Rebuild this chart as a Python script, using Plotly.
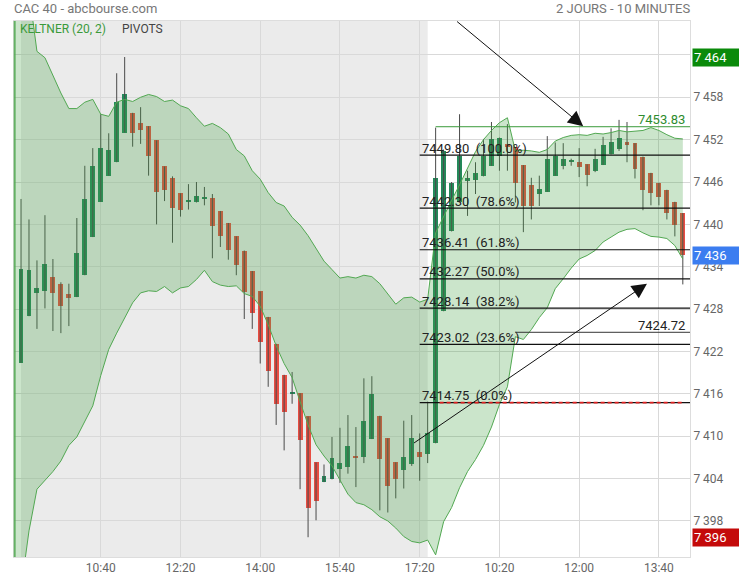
import plotly.graph_objects as go

# CAC 40, 10-minute candles over 2 sessions (index 0 = 9:00 day 1, index 52 = 9:00 day 2)
OPEN = [7420.4, 7427.0, 7430.3, 7430.6, 7432.6, 7431.5, 7430.1, 7429.7, 7432.8, 7438.2,
        7443.2, 7446.9, 7448.8, 7453.0, 7455.8, 7454.4, 7453.9, 7451.9, 7448.2, 7446.5,
        7444.4, 7443.2, 7443.2, 7443.6, 7443.7, 7441.9, 7440.2, 7438.3, 7436.3, 7433.4,
        7430.5, 7426.9, 7423.1, 7418.7, 7416.1, 7416.1, 7412.8, 7406.3, 7403.5, 7403.9,
        7405.3, 7405.7, 7407.2, 7407.1, 7409.6, 7412.9, 7409.7, 7406.3, 7405.2, 7406.1,
        7407.8, 7407.5, 7409.0, 7427.7, 7439.1, 7443.2, 7446.2, 7446.3, 7446.8, 7448.3,
        7449.7, 7451.4, 7450.9, 7448.4, 7445.6, 7444.3, 7444.6, 7446.9, 7448.3, 7448.9,
        7448.8, 7448.5, 7447.6, 7448.4, 7449.9, 7450.7, 7451.6, 7451.5, 7449.6, 7447.3,
        7445.9, 7444.9, 7443.2, 7441.6]
HIGH = [7443.6, 7440.7, 7434.9, 7441.3, 7435.1, 7431.8, 7431.6, 7440.9, 7448.3, 7450.8,
        7455.6, 7452.9, 7461.4, 7463.7, 7455.8, 7456.6, 7453.9, 7451.9, 7448.2, 7446.8,
        7444.4, 7445.7, 7446.0, 7445.3, 7444.3, 7441.9, 7440.2, 7438.3, 7436.3, 7433.4,
        7430.5, 7426.9, 7423.1, 7418.7, 7419.1, 7416.1, 7412.8, 7406.3, 7406.0, 7409.9,
        7411.2, 7413.0, 7411.3, 7418.2, 7418.5, 7412.9, 7409.7, 7406.3, 7412.2, 7413.0,
        7410.4, 7414.9, 7453.7, 7450.6, 7446.0, 7455.6, 7447.6, 7448.8, 7452.1, 7454.5,
        7452.3, 7454.2, 7450.9, 7448.4, 7446.6, 7446.9, 7452.5, 7451.6, 7451.5, 7449.3,
        7450.8, 7448.5, 7450.7, 7452.4, 7453.6, 7454.8, 7454.5, 7451.5, 7449.6, 7447.3,
        7445.9, 7444.9, 7443.2, 7441.6]
LOW = [7420.4, 7427.0, 7425.2, 7428.1, 7424.9, 7424.6, 7425.6, 7429.7, 7432.8, 7438.2,
       7443.2, 7446.9, 7448.8, 7453.0, 7451.0, 7451.4, 7446.9, 7440.0, 7443.3, 7437.4,
       7441.1, 7442.1, 7443.1, 7442.7, 7435.2, 7436.8, 7435.0, 7432.8, 7426.6, 7425.2,
       7420.3, 7417.0, 7411.6, 7408.0, 7414.6, 7402.5, 7395.7, 7398.1, 7403.5, 7403.9,
       7403.4, 7404.7, 7402.8, 7406.2, 7409.6, 7399.5, 7399.2, 7401.2, 7402.6, 7405.8,
       7403.7, 7406.2, 7409.0, 7427.7, 7439.0, 7443.2, 7441.2, 7444.3, 7446.8, 7448.3,
       7447.6, 7447.6, 7443.1, 7438.9, 7440.7, 7442.6, 7444.6, 7446.9, 7447.8, 7448.3,
       7446.7, 7445.4, 7447.4, 7448.4, 7449.9, 7450.4, 7448.8, 7446.5, 7442.0, 7442.7,
       7442.7, 7440.7, 7438.3, 7431.5]
CLOSE = [7433.7, 7433.6, 7431.0, 7434.4, 7430.3, 7428.4, 7429.6, 7436.0, 7443.6, 7448.3,
         7450.8, 7450.5, 7457.3, 7458.5, 7452.9, 7453.4, 7449.7, 7444.6, 7444.8, 7442.3,
         7442.0, 7443.4, 7444.0, 7443.8, 7439.8, 7438.4, 7436.4, 7434.3, 7430.4, 7427.5,
         7423.3, 7419.2, 7414.5, 7413.4, 7416.3, 7409.5, 7399.8, 7400.8, 7404.4, 7406.9,
         7406.2, 7408.6, 7407.0, 7412.2, 7416.0, 7406.8, 7402.9, 7403.9, 7407.0, 7409.7,
         7407.1, 7410.4, 7446.6, 7450.4, 7445.9, 7449.7, 7446.5, 7447.3, 7449.7, 7452.1,
         7452.3, 7450.9, 7445.9, 7442.6, 7442.6, 7445.0, 7449.2, 7449.7, 7449.2, 7449.0,
         7448.1, 7447.0, 7449.3, 7451.3, 7451.7, 7452.3, 7451.2, 7447.8, 7444.8, 7444.4,
         7443.9, 7441.6, 7439.9, 7435.6]

TICK_POS = [10, 20, 30, 40, 50, 60, 70, 80]
TICK_TEXT = ["10:40", "12:20", "14:00", "15:40", "17:20", "10:20", "12:00", "13:40"]
PRICE_TICKS = list(range(7398, 7465, 6))

# keltner (20, 2) bands, index -1 .. 83
KELT_X = list(range(-1, 84))
KELT_UP = [7488, 7482, 7473, 7464.5, 7463.6, 7461.0, 7458.6, 7456.4, 7456.4, 7457.3, 7457.7,
           7455.6, 7455.3, 7457.3, 7457.7, 7457.4, 7458.0, 7458.4, 7458.1, 7457.4, 7457.6,
           7456.8, 7456.4, 7455.1, 7453.9, 7454.3, 7453.7, 7452.8, 7450.6, 7449.7, 7447.6,
           7446.4, 7444.5, 7443.1, 7442.6, 7441.0, 7439.9, 7438.4, 7436.5, 7434.8, 7433.6,
           7432.4, 7432.6, 7432.4, 7432.8, 7432.6, 7431.6, 7430.1, 7428.7, 7429.6, 7429.7,
           7429.0, 7429.4, 7438.8, 7441.2, 7443.4, 7445.6, 7447.9, 7450.3, 7452.0, 7453.3,
           7454.4, 7455.1, 7450.4, 7450.5, 7450.4, 7450.2, 7450.6, 7451.8, 7452.3, 7452.6,
           7452.7, 7452.6, 7452.9, 7452.8, 7453.0, 7453.3, 7453.1, 7453.2, 7453.3, 7453.7,
           7453.3, 7452.7, 7452.2, 7452.1]
KELT_LO = [7380, 7388, 7396.6, 7402.5, 7403.8, 7405.0, 7406.5, 7408.7, 7409.9, 7412.1, 7414.3,
           7418.6, 7422.3, 7424.6, 7426.8, 7428.9, 7430.3, 7430.6, 7430.5, 7431.2, 7430.3,
           7431.0, 7431.2, 7432.2, 7433.5, 7431.9, 7431.4, 7431.2, 7431.3, 7430.2, 7429.8,
           7428.4, 7425.8, 7422.8, 7420.3, 7418.3, 7414.9, 7411.6, 7408.8, 7407.2, 7405.8,
           7403.8, 7401.8, 7400.6, 7400.3, 7399.6, 7398.6, 7398.0, 7397.0, 7395.8, 7395.1,
           7394.9, 7395.3, 7393.2, 7397.9, 7399.9, 7402.7, 7405.0, 7406.7, 7408.7, 7411.3,
           7414.5, 7417.0, 7424.1, 7423.7, 7425.1, 7426.8, 7428.2, 7430.9, 7432.3, 7433.8,
           7435.1, 7435.6, 7436.3, 7437.5, 7438.2, 7438.9, 7439.3, 7439.4, 7438.8, 7438.3,
           7438.2, 7438.0, 7437.0, 7435.1]

FIB_LEVELS = [7449.80, 7442.30, 7436.41, 7432.27, 7428.14, 7423.02, 7414.75]
FIB_PCT = [100.0, 78.6, 61.8, 50.0, 38.2, 23.6, 0.0]
FIB_START = 50
PIVOT_HIGH, PIVOT_HIGH_START = 7453.83, 52
PIVOT_LOW, PIVOT_LOW_START = 7424.72, 62
# (tail x, tail y, head x, head y)
ARROWS = [(54.5, 7468.9, 70.5, 7453.9), (49.1, 7408.9, 78.5, 7431.6)]

X_RANGE = [-0.88, 83.9]
Y_RANGE = [7392.9, 7468.8]
UP_COL, DOWN_COL = "#24895a", "#e84d42"
FONT = "Roboto, Arial, sans-serif"

n = len(OPEN)
xs = list(range(n))
wick_x, wick_y = [], []
for i in xs:
    wick_x += [i, i, None]
    wick_y += [LOW[i], HIGH[i], None]

fig = go.Figure()
fig.add_trace(go.Bar(x=xs, base=[min(o, c) for o, c in zip(OPEN, CLOSE)],
                     y=[max(abs(c - o), 0.2) for o, c in zip(OPEN, CLOSE)], width=0.62,
                     marker=dict(color=[UP_COL if c >= o else DOWN_COL for o, c in zip(OPEN, CLOSE)], line=dict(width=0)),
                     hoverinfo="skip", showlegend=False))
fig.add_trace(go.Scatter(x=wick_x, y=wick_y, mode="lines", line=dict(color="#4a4a4a", width=1), hoverinfo="skip", showlegend=False))
fig.add_trace(go.Scatter(x=KELT_X, y=KELT_LO, mode="lines", line=dict(color="#52a852", width=1), hoverinfo="skip", showlegend=False))
fig.add_trace(go.Scatter(x=KELT_X, y=KELT_UP, mode="lines", fill="tonexty", fillcolor="rgba(70,160,70,0.28)",
                         line=dict(color="#52a852", width=1), hoverinfo="skip", showlegend=False))

shapes = [dict(type="rect", xref="x", yref="paper", x0=0, x1=51, y0=0, y1=1, fillcolor="#ebebeb", line=dict(width=0), layer="below"),
          dict(type="line", xref="paper", yref="paper", x0=0.001, x1=0.001, y0=0, y1=1, line=dict(color="rgba(82,168,82,0.85)", width=2))]
annotations = []
for lvl, pct in zip(FIB_LEVELS, FIB_PCT):
    shapes.append(dict(type="line", xref="x", yref="y", x0=FIB_START, x1=X_RANGE[1], y0=lvl, y1=lvl, line=dict(color="#111111", width=1.2)))
    annotations.append(dict(x=FIB_START, y=lvl, xref="x", yref="y", xanchor="left", yanchor="middle", yshift=7, showarrow=False,
                            text=f"{lvl:.2f}\u00a0\u00a0({pct:.1f}%)", font=dict(family=FONT, size=13, color="#222222")))
shapes.append(dict(type="line", xref="x", yref="y", x0=52.5, x1=n - 1, y0=FIB_LEVELS[-1], y1=FIB_LEVELS[-1],
                   line=dict(color="#e02020", width=1.8, dash="4px,3px")))
shapes.append(dict(type="line", xref="x", yref="y", x0=PIVOT_HIGH_START, x1=X_RANGE[1], y0=PIVOT_HIGH, y1=PIVOT_HIGH, line=dict(color="#3a9a3a", width=1)))
shapes.append(dict(type="line", xref="x", yref="y", x0=PIVOT_LOW_START, x1=X_RANGE[1], y0=PIVOT_LOW, y1=PIVOT_LOW, line=dict(color="#333333", width=1)))
annotations.append(dict(x=1, y=PIVOT_HIGH, xref="paper", yref="y", xanchor="right", yanchor="middle", xshift=-3, yshift=7, showarrow=False,
                        text=f"{PIVOT_HIGH:.2f}", font=dict(family=FONT, size=13, color="#2e8b2e")))
annotations.append(dict(x=1, y=PIVOT_LOW, xref="paper", yref="y", xanchor="right", yanchor="middle", xshift=-3, yshift=7, showarrow=False,
                        text=f"{PIVOT_LOW:.2f}", font=dict(family=FONT, size=13, color="#222222")))

for tx, ty, hx, hy in ARROWS:
    annotations.append(dict(x=hx, y=hy, ax=tx, ay=ty, xref="x", yref="y", axref="x", ayref="y", text="", showarrow=True,
                            arrowhead=2, arrowsize=3, arrowwidth=1, arrowcolor="#111111"))

# price boxes on the right axis: day high, last, day low
def fmt(v):
    return f"{round(v):,}".replace(",", " ")

for val, col in [(max(HIGH), "#0a8a0a"), (CLOSE[-1], "#3b7df0"), (min(LOW), "#c40a0a")]:
    annotations.append(dict(x=1, y=val, xref="paper", yref="y", xanchor="left", yanchor="middle", xshift=2, showarrow=False,
                            text=fmt(val), align="left", width=44, height=15, bgcolor=col, borderpad=1,
                            font=dict(family=FONT, size=13, color="white")))

annotations += [
    dict(x=0, y=1, xref="paper", yref="paper", xanchor="left", yanchor="middle", yshift=-8, xshift=4, showarrow=False,
         text="KELTNER (20, 2)", font=dict(family=FONT, size=12, color="#3a9a3a")),
    dict(x=0.157, y=1, xref="paper", yref="paper", xanchor="left", yanchor="middle", yshift=-8, showarrow=False,
         text="PIVOTS", font=dict(family=FONT, size=12, color="#444444")),
    dict(x=0, y=1, xref="paper", yref="paper", xanchor="left", yanchor="middle", yshift=13, xshift=-2, showarrow=False,
         text="CAC 40 - abcbourse.com", font=dict(family=FONT, size=13, color="#777777")),
    dict(x=1, y=1, xref="paper", yref="paper", xanchor="right", yanchor="middle", yshift=13, xshift=2, showarrow=False,
         text="2 JOURS - 10 MINUTES", font=dict(family=FONT, size=13, color="#777777")),
]

fig.update_layout(
    width=739, height=580, margin=dict(l=14, r=49, t=21, b=23),
    paper_bgcolor="white", plot_bgcolor="white", separators=". ",
    font=dict(family=FONT, size=12, color="#666666"),
    showlegend=False, bargap=0, shapes=shapes, annotations=annotations,
    xaxis=dict(range=X_RANGE, tickmode="array", tickvals=TICK_POS, ticktext=TICK_TEXT, showgrid=True, gridcolor="#d9d9d9",
               zeroline=False, showline=True, mirror=True, linecolor="#dddddd", ticks="", automargin=False,
               tickfont=dict(size=12, color="#666666")),
    yaxis=dict(range=Y_RANGE, side="right", tickmode="array", tickvals=PRICE_TICKS, tickformat=",d", showgrid=True, gridcolor="#d9d9d9",
               zeroline=False, showline=True, mirror=True, linecolor="#dddddd", ticks="", automargin=False,
               tickfont=dict(size=12, color="#666666")),
)

# the page body has a default 8px margin; drop it so the figure sits at the window's corner
fig.write_html("out.html", config={"displayModeBar": False},
               post_script="document.body.style.margin='0';")
